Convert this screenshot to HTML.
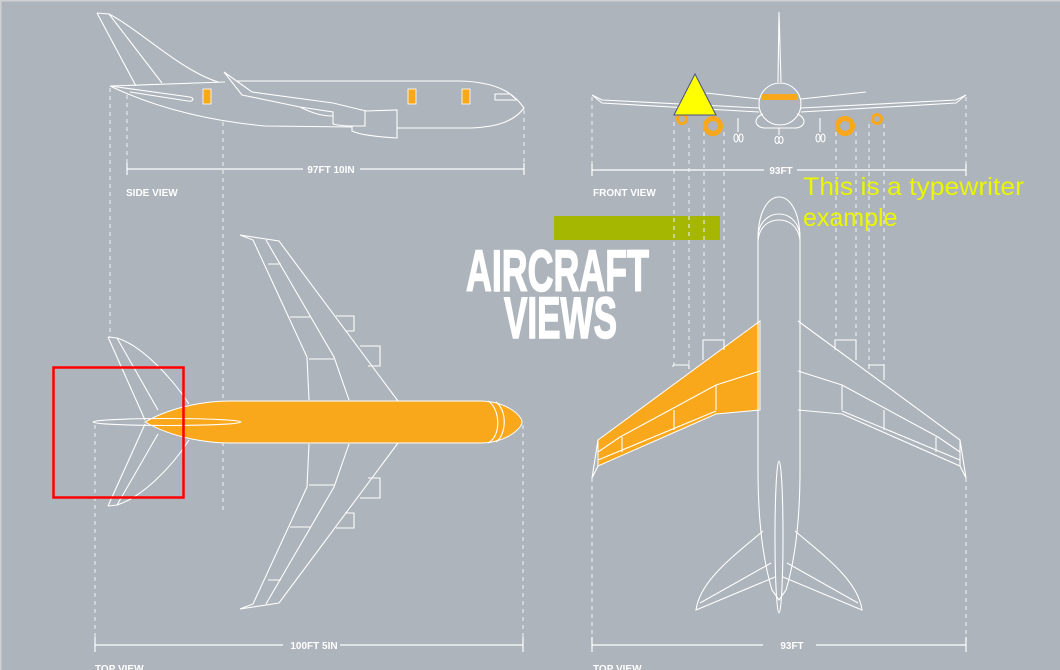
<!DOCTYPE html>
<html><head><meta charset="utf-8"><style>
html,body{margin:0;padding:0;background:#adb4bb;}
svg{display:block}
.w{fill:none;stroke:#fff;stroke-width:1.1}
.d{fill:none;stroke:#e6e9ec;stroke-width:1.2;stroke-dasharray:4 4}
.dm{fill:none;stroke:#fff;stroke-width:1.2}
.lb{font-family:"Liberation Sans",sans-serif;font-weight:bold;font-size:10px;fill:#fff}
</style></head><body>
<svg width="1060" height="670" viewBox="0 0 1060 670">
<rect x="0" y="0" width="1060" height="670" fill="#adb4bb"/>
<rect x="0" y="0" width="1060" height="1.5" fill="#cfd1d3"/>
<rect x="0" y="0" width="1.5" height="670" fill="#cfd1d3"/>

<rect x="554" y="216" width="166" height="24" fill="#a5b700"/>

<path class="d" d="M110 88V337 M127 95V165 M223 122V510 M524 110V165 M95 425V640 M523 425V640
M592 97V165 M966 97V165 M592 478V640 M966 478V640
M674 122V365 M689 128V365 M704 132V340 M724 132V340 M836 132V340 M856 132V340 M869 124V365 M884 124V365"/>

<!-- SIDE VIEW -->
<g class="w">
<path d="M97 13 L109 14 C140 30 180 70 218 82 M97 13 L136 86 M109 14 L162 83"/>
<path d="M110 86 L225 82 M237 81 L460 81 C500 82 515 95 524 108 C515 120 500 127 470 128 L397 128 M110 86 C150 105 200 120 265 126 L352 127"/>
<path d="M110 86 L190 97 C195 98 193 102 188 101 L130 92"/>
<path d="M224 72 L252 92 L333 103 L366 111 L397 110 L397 138 C380 137 360 135 352 131 L352 126 M224 72 L242 95 L300 107 L333 112 L333 124 C340 126 345 126 365 126 L365 110 M300 107 C310 112 320 116 333 116"/>
<path d="M495 94 L510 94 L517 100 L495 100 Z"/>
</g>
<g fill="#f9a81c" stroke="#fff" stroke-width="0.8">
<rect x="203" y="89" width="8" height="15"/><rect x="408" y="89" width="8" height="15"/><rect x="462" y="89" width="8" height="15"/>
</g>
<path class="dm" d="M127 163V175 M524 163V175 M127 169H303 M360 169H524"/>
<text class="lb" x="331" y="173" text-anchor="middle" font-size="9">97FT 10IN</text>
<text class="lb" x="126" y="196">SIDE VIEW</text>

<!-- FRONT VIEW -->
<g class="w">
<path d="M778 82 L779 12 L781 82"/>
<circle cx="780" cy="104" r="21"/>
<path d="M763 114 C752 118 755 128 765 128 L795 128 C805 128 808 118 797 114"/>
<path d="M592 95 L602 103 L759 112 M592 95 L602 100 L759 108"/>
<path d="M966 95 L956 103 L801 112 M966 95 L956 100 L801 108"/>
<path d="M706 93 L759 99 M801 99 L866 92"/>
<path d="M738 118V132 M779 128V135 M820 118V132"/>
<ellipse cx="736" cy="138" rx="2" ry="4"/><ellipse cx="741" cy="138" rx="2" ry="4"/>
<ellipse cx="777" cy="140" rx="2" ry="3.5"/><ellipse cx="781" cy="140" rx="2" ry="3.5"/>
<ellipse cx="818" cy="138" rx="2" ry="4"/><ellipse cx="823" cy="138" rx="2" ry="4"/>
</g>
<rect x="762" y="94" width="35" height="6" fill="#f9a81c"/>
<g fill="none" stroke="#f9a81c">
<circle cx="682" cy="119" r="4.5" stroke-width="3"/>
<circle cx="713" cy="126" r="7.5" stroke-width="5"/>
<circle cx="845" cy="126" r="7.5" stroke-width="5"/>
<circle cx="877" cy="119" r="4.5" stroke-width="3"/>
</g>
<polygon points="695,74 674,115 716,115" fill="#ffff00" stroke="#4a5080" stroke-width="1"/>
<path class="dm" d="M592 164V176 M966 164V176 M592 170H764 M797 170H966"/>
<text class="lb" x="781" y="174" text-anchor="middle" font-size="9.5">93FT</text>
<text class="lb" x="593" y="196">FRONT VIEW</text>

<!-- TOP VIEW LEFT -->
<path d="M145 422 C175 405 210 401 230 401 L480 401 C505 401 522 415 522 422 C522 429 505 443 480 443 L230 443 C210 443 175 439 145 422Z" fill="#f9a81c" stroke="#fff" stroke-width="1"/>
<g class="w">
<path d="M488 401 C500 408 502 436 488 443 M496 402 C507 410 507 434 496 442"/>
<ellipse cx="167" cy="422" rx="74" ry="3.5"/>
<path d="M108 337 L117 338 C140 345 170 375 189 404 M108 337 L145 420 M117 338 L158 410"/>
<path d="M108 506 L117 505 C140 498 170 470 189 440 M108 506 L145 424 M117 505 L158 434"/>
<path d="M240 235 L279 241 L398 401 M240 235 L253 240 L307 357 L309 400 M266 240 L334 357 L349 400 M268 264 H281 M290 317 H310 M309 359 H334 M336 316 H354 V331 H345 M360 346 H380 V366 H368"/>
<path d="M240 609 L279 603 L398 443 M240 609 L253 604 L307 487 L309 444 M266 604 L334 487 L349 444 M268 580 H281 M290 527 H310 M309 485 H334 M336 528 H354 V513 H345 M360 498 H380 V478 H368"/>
</g>
<path class="dm" d="M95 637V652 M523 637V652 M95 645H283 M340 645H523"/>
<text class="lb" x="314" y="649" text-anchor="middle" font-size="9.5">100FT 5IN</text>
<text class="lb" x="95" y="672">TOP VIEW</text>
<rect x="53.5" y="367.5" width="130" height="130" fill="none" stroke="#f00" stroke-width="2.5"/>

<!-- TOP VIEW RIGHT -->
<path d="M760 321 L598 440 L598 466 L716 414 L760 410 Z" fill="#f9a81c" stroke="#fff" stroke-width="1"/>
<g class="w">
<path d="M758 240 C758 208 770 197 779 197 C788 197 800 208 800 240 L800 470 C800 520 795 560 786 590 L779 600 L772 590 C763 560 758 520 758 470 Z"/>
<path d="M758 235 C760 220 770 214 779 214 C788 214 798 220 800 235 M758 240 C760 225 770 220 779 220 C788 220 798 225 800 240"/>
<ellipse cx="779" cy="537" rx="4" ry="76"/>
<path d="M763 531 C735 555 700 580 696 610 L775 577 M700 603 L771 563"/>
<path d="M795 531 C823 555 858 580 862 610 L783 577 M858 603 L787 563"/>
<path d="M760 371 L716 385 L716 410 M716 385 L620 437 L598 452 M674 410 L674 430 M622 437 L622 452 M598 460 L716 411"/>
<path d="M598 440 L592 478 M598 466 L592 478"/>
<path d="M798 321 L960 440 L960 466 L842 414 L798 410 M798 371 L842 385 L842 410 M842 385 L938 437 L960 452 M884 410 V430 M936 437 V452 M960 460 L842 411 M960 440 L966 478 M960 466 L966 478"/>
<path d="M673 365 V367 M673 365 H689 V369 M703 360 V340 H724 V350"/>
<path d="M835 350 V340 H856 V360 M869 369 V365 H884 V380"/>
</g>
<path class="dm" d="M592 637V652 M966 637V652 M592 645H763 M816 645H966"/>
<text class="lb" x="792" y="649" text-anchor="middle" font-size="9.5">93FT</text>
<text class="lb" x="593" y="672">TOP VIEW</text>

<!-- title -->
<g font-family="'Liberation Sans Narrow','Liberation Sans',sans-serif" font-weight="bold" font-size="58" fill="#fff" stroke="#fff" stroke-width="1.6">
<text x="466" y="291" textLength="183" lengthAdjust="spacingAndGlyphs">AIRCRAFT</text>
<text x="504" y="338" textLength="113" lengthAdjust="spacingAndGlyphs">VIEWS</text>
</g>

<text x="803" y="195" font-family="'Liberation Sans',sans-serif" font-size="25" fill="#eaf700" textLength="221" lengthAdjust="spacingAndGlyphs">This is a typewriter</text>
<text x="803" y="226" font-family="'Liberation Sans',sans-serif" font-size="25" fill="#eaf700">example</text>
</svg>
</body></html>
